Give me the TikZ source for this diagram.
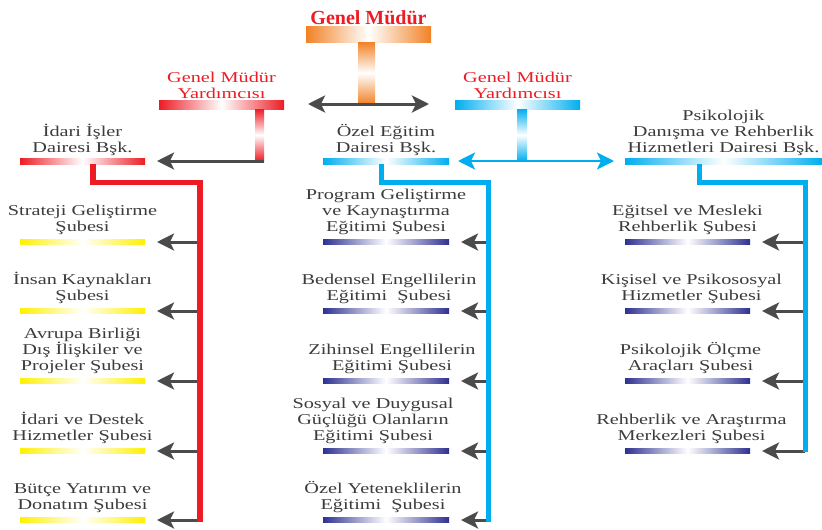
\documentclass[tikz,border=0pt]{standalone}
\usepackage{fontspec}
\setmainfont{Liberation Serif}[FakeStretch=1.35]
\newfontfamily\titlefont{Liberation Serif}
\usetikzlibrary{positioning,arrows.meta}

\definecolor{gmred}{RGB}{237,28,36}
\definecolor{gmorange}{RGB}{241,130,38}
\definecolor{gmcyan}{RGB}{0,174,239}
\definecolor{gmnavy}{RGB}{46,49,146}
\definecolor{gmyellow}{RGB}{255,240,0}
\definecolor{txtgray}{RGB}{60,60,60}
\definecolor{arrgray}{RGB}{75,75,75}

\begin{document}
\begin{tikzpicture}[x=1pt, y=-1pt,
  >={Stealth[length=17pt,width=17pt,inset=4pt]},
  bar/.style={rectangle, inner sep=0pt, outer sep=0pt, minimum width=125pt},
  headbar/.style={bar, minimum height=6pt},
  subbar/.style={bar, minimum height=5pt},
  stem/.style={rectangle, inner sep=0pt, outer sep=0pt, minimum height=52pt},
  redbar/.style={left color=gmred, right color=gmred, middle color=white},
  orangebar/.style={left color=gmorange, right color=gmorange, middle color=white},
  bluebar/.style={left color=gmcyan, right color=gmcyan, middle color=white},
  navybar/.style={left color=gmnavy, right color=gmnavy, middle color=white},
  yellowbar/.style={left color=gmyellow, right color=gmyellow, middle color=white},
  redstem/.style={top color=gmred, bottom color=gmred, middle color=white},
  orangestem/.style={top color=gmorange, bottom color=gmorange, middle color=white},
  bluestem/.style={top color=gmcyan, bottom color=gmcyan, middle color=white},
  lbl/.style={align=center, inner sep=0pt, outer sep=0pt, text=txtgray,
    font=\fontsize{15}{16}\selectfont},
  redlbl/.style={lbl, text=gmred},
  titlelbl/.style={inner sep=0pt, outer sep=0pt, text=gmred,
    font=\titlefont\bfseries\fontsize{20}{22}\selectfont},
  grayline/.style={draw=arrgray, line width=3pt},
  branch/.style={grayline, ->, shorten >=12pt},
  blueline/.style={draw=gmcyan, line width=2.5pt},
  redtrunk/.style={draw=gmred, line width=5.5pt},
  bluetrunk/.style={draw=gmcyan, line width=5pt}]
  \useasboundingbox (0,0) rectangle (822,530);

  % Level 0: Genel Mudur
  \node[bar, minimum height=16pt, orangebar] (gmbar) at (368.5,34) {};
  \node[titlelbl, above=1pt of gmbar] (gm) {Genel Müdür};
  \node[stem, minimum width=17pt, minimum height=62pt, orangestem] (gmstem) at (366.5,73) {};
  \coordinate (gmleft) at (308,104);
  \coordinate (gmright) at (429,104);
  \draw[grayline, <->] (gmleft) -- (gmright);

  % Level 1: the two deputies
  \node[bar, minimum height=9pt, redbar] (gmyl) at (221.5,104.5) {};
  \node[redlbl, above=1pt of gmyl] (gmyltxt) {Genel Müdür\\Yardımcısı};
  \node[stem, minimum width=9pt, redstem] (gmylstem) at (259.5,135) {};

  \node[bar, minimum height=9pt, bluebar] (gmyr) at (517.5,104.5) {};
  \node[redlbl, above=1pt of gmyr] (gmyrtxt) {Genel Müdür\\Yardımcısı};
  \node[stem, minimum width=10pt, bluestem] (gmyrstem) at (522,135) {};

  % Level 2: departments
  \node[headbar, redbar] (idari) at (82.5,161) {};
  \node[lbl, above=2pt of idari] (idaritxt) {İdari İşler\\Dairesi Bşk.};
  \node[headbar, minimum width=126pt, bluebar] (ozel) at (386,161) {};
  \node[lbl, above=2pt of ozel] (ozeltxt) {Özel Eğitim\\Dairesi Bşk.};
  \node[headbar, minimum width=197pt, bluebar] (psiko) at (723.5,161) {};
  \node[lbl, above=2pt of psiko] (psikotxt) {Psikolojik\\Danışma ve Rehberlik\\Hizmetleri Dairesi Bşk.};

  % Edges from the deputies
  \draw[branch] (gmylstem.south east) -- (idari.east);
  \draw[blueline, <->, shorten <=9pt, shorten >=11pt] (ozel.east) -- (psiko.west);

  % Level 3: branches of Idari Isler
  \node[subbar, yellowbar] (s1) at (82.5,242) {};
  \node[lbl, above=5pt of s1] (s1txt) {Strateji Geliştirme\\Şubesi};
  \node[subbar, yellowbar] (s2) at (82.5,311) {};
  \node[lbl, above=5pt of s2] (s2txt) {İnsan Kaynakları\\Şubesi};
  \node[subbar, yellowbar] (s3) at (82.5,381) {};
  \node[lbl, above=5pt of s3] (s3txt) {Avrupa Birliği\\Dış İlişkiler ve\\Projeler Şubesi};
  \node[subbar, yellowbar] (s4) at (82.5,451) {};
  \node[lbl, above=5pt of s4] (s4txt) {İdari ve Destek\\Hizmetler Şubesi};
  \node[subbar, yellowbar] (s5) at (82.5,520) {};
  \node[lbl, above=5pt of s5] (s5txt) {Bütçe Yatırım ve\\Donatım Şubesi};

  % Level 3: branches of Ozel Egitim
  \node[subbar, minimum width=126pt, navybar] (m1) at (386,242) {};
  \node[lbl, above=5pt of m1] (m1txt) {Program Geliştirme\\ve Kaynaştırma\\Eğitimi Şubesi};
  \node[subbar, minimum width=126pt, navybar] (m2) at (386,311) {};
  \node[lbl, above=5pt of m2, xshift=3pt] (m2txt) {Bedensel Engellilerin\\Eğitimi \ Şubesi};
  \node[subbar, minimum width=126pt, navybar] (m3) at (386,381) {};
  \node[lbl, above=5pt of m3, xshift=6pt] (m3txt) {Zihinsel Engellilerin\\Eğitimi Şubesi};
  \node[subbar, minimum width=126pt, navybar] (m4) at (386,451) {};
  \node[lbl, above=5pt of m4, xshift=-13pt] (m4txt) {Sosyal ve Duygusal\\Güçlüğü Olanların\\Eğitimi Şubesi};
  \node[subbar, minimum width=126pt, navybar] (m5) at (386,520) {};
  \node[lbl, above=5pt of m5, xshift=-3pt] (m5txt) {Özel Yeteneklilerin\\Eğitimi \ Şubesi};

  % Level 3: branches of Psikolojik Danisma
  \node[subbar, navybar] (r1) at (687.5,242) {};
  \node[lbl, above=5pt of r1] (r1txt) {Eğitsel ve Mesleki\\Rehberlik Şubesi};
  \node[subbar, navybar] (r2) at (687.5,311) {};
  \node[lbl, above=5pt of r2, xshift=4pt] (r2txt) {Kişisel ve Psikososyal\\Hizmetler Şubesi};
  \node[subbar, navybar] (r3) at (687.5,381) {};
  \node[lbl, above=5pt of r3, xshift=3pt] (r3txt) {Psikolojik Ölçme\\Araçları Şubesi};
  \node[subbar, navybar] (r4) at (687.5,451) {};
  \node[lbl, above=5pt of r4, xshift=4pt] (r4txt) {Rehberlik ve Araştırma\\Merkezleri Şubesi};

  % Trunk ends
  \coordinate (redend) at (200,522);
  \coordinate (midend) at (488,522);
  \coordinate (rightend) at (805,452);

  % Edges from the trunks
  \draw[branch] (redend |- s1) -- (s1);
  \draw[branch] (redend |- s2) -- (s2);
  \draw[branch] (redend |- s3) -- (s3);
  \draw[branch] (redend |- s4) -- (s4);
  \draw[branch] (redend |- s5) -- (s5);

  \draw[branch] (midend |- m1) -- (m1);
  \draw[branch] (midend |- m2) -- (m2);
  \draw[branch] (midend |- m3) -- (m3);
  \draw[branch] (midend |- m4) -- (m4);
  \draw[branch] (midend |- m5) -- (m5);

  \draw[branch] (rightend |- r1) -- (r1);
  \draw[branch] (rightend |- r2) -- (r2);
  \draw[branch] (rightend |- r3) -- (r3);
  \draw[branch] (rightend |- r4) -- (r4);

  % Trunks
  \draw[redtrunk] ([xshift=10.5pt]idari.south) -- ++(0,18.5) -| (redend);
  \draw[bluetrunk] ([xshift=-5pt]ozel.south) -- ++(0,18.5) -| (midend);
  \draw[bluetrunk] ([xshift=-24.5pt]psiko.south) -- ++(0,18.5) -| (rightend);

\end{tikzpicture}
\end{document}
